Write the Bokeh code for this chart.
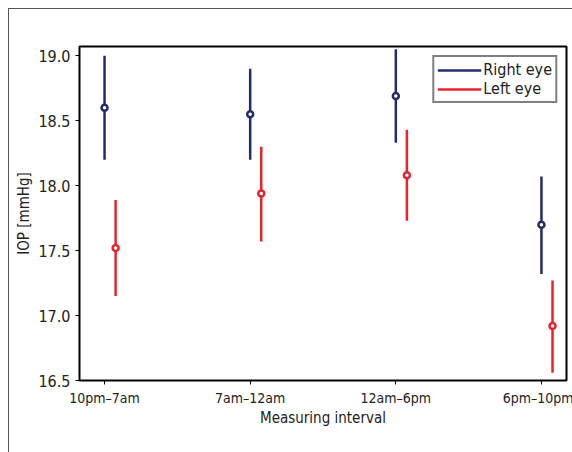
from bokeh.plotting import figure
from bokeh.models import Range1d, FixedTicker, ColumnDataSource, Legend, LegendItem, NumeralTickFormatter
from bokeh.embed import file_html
from bokeh.resources import INLINE

categories = ["10pm\u20137am", "7am\u201312am", "12am\u20136pm", "6pm\u201310pm"]
right_mean = [18.60, 18.55, 18.69, 17.70]
right_low = [18.20, 18.20, 18.33, 17.32]
right_high = [19.00, 18.90, 19.05, 18.07]
left_mean = [17.52, 17.94, 18.08, 16.92]
left_low = [17.15, 17.57, 17.73, 16.56]
left_high = [17.89, 18.30, 18.43, 17.27]

NAVY = "#222e6b"
RED = "#e8232b"
FONT = "'DejaVu Sans Condensed', 'Liberation Sans Narrow', 'Open Sans', sans-serif"

pos = [i + 1 for i in range(len(categories))]
off = 0.076

src_r = ColumnDataSource(dict(x=pos, m=right_mean, lo=right_low, hi=right_high))
src_l = ColumnDataSource(dict(x=[p_ + off for p_ in pos], m=left_mean, lo=left_low, hi=left_high))

p = figure(frame_width=487, frame_height=334, output_backend="svg", toolbar_location=None,
           x_range=Range1d(0.828, 4.172), y_range=Range1d(16.5, 19.072),
           min_border_left=70, min_border_right=7, min_border_top=37, min_border_bottom=73)
p.styles = {"margin-left": "8px", "margin-top": "8px",
            "border-top": "1px solid #555", "border-left": "1px solid #555"}
p.grid.visible = False
p.outline_line_color = "black"
p.outline_line_width = 2
p.background_fill_color = "white"
p.border_fill_color = "white"

seg_r = p.segment(x0="x", x1="x", y0="lo", y1="hi", source=src_r, line_color=NAVY, line_width=2.5)
p.scatter(x="x", y="m", source=src_r, size=6, line_color=NAVY, line_width=2.5, fill_color="white")
seg_l = p.segment(x0="x", x1="x", y0="lo", y1="hi", source=src_l, line_color=RED, line_width=2.5)
p.scatter(x="x", y="m", source=src_l, size=6, line_color=RED, line_width=2.5, fill_color="white")

p.xaxis.ticker = FixedTicker(ticks=pos)
p.xaxis.major_label_overrides = {pos[i]: categories[i] for i in range(len(pos))}
p.yaxis.ticker = FixedTicker(ticks=[16.5, 17.0, 17.5, 18.0, 18.5, 19.0])
p.yaxis.formatter = NumeralTickFormatter(format="0.0")

for ax in (p.xaxis[0], p.yaxis[0]):
    ax.axis_line_color = None
    ax.major_tick_line_color = "black"
    ax.major_tick_in = 0
    ax.major_tick_out = 4
    ax.minor_tick_line_color = None
    ax.major_label_text_font = FONT
    ax.major_label_text_font_size = "16px"
    ax.major_label_text_color = "#222"
    ax.axis_label_text_font = FONT
    ax.axis_label_text_font_size = "15px"
    ax.axis_label_text_font_style = "normal"
    ax.axis_label_text_color = "#222"
    ax.major_label_standoff = 5

p.xaxis.major_label_text_font_size = "14px"
p.xaxis.axis_label = "Measuring interval"
p.xaxis.axis_label_standoff = 0
p.yaxis.axis_label = "IOP [mmHg]"
p.yaxis.axis_label_standoff = 2

legend = Legend(items=[LegendItem(label="Right eye", renderers=[seg_r]),
                       LegendItem(label="Left eye", renderers=[seg_l])],
                location="top_right")
legend.border_line_color = "black"
legend.border_line_width = 2
legend.label_text_font = FONT
legend.label_text_font_size = "16px"
legend.label_text_color = "#222"
legend.glyph_width = 44
legend.glyph_height = 14
legend.label_height = 14
legend.label_standoff = 2
legend.spacing = 0
legend.padding = 3
legend.margin = 9
p.add_layout(legend)

open("out.html", "w").write(file_html(p, INLINE))
